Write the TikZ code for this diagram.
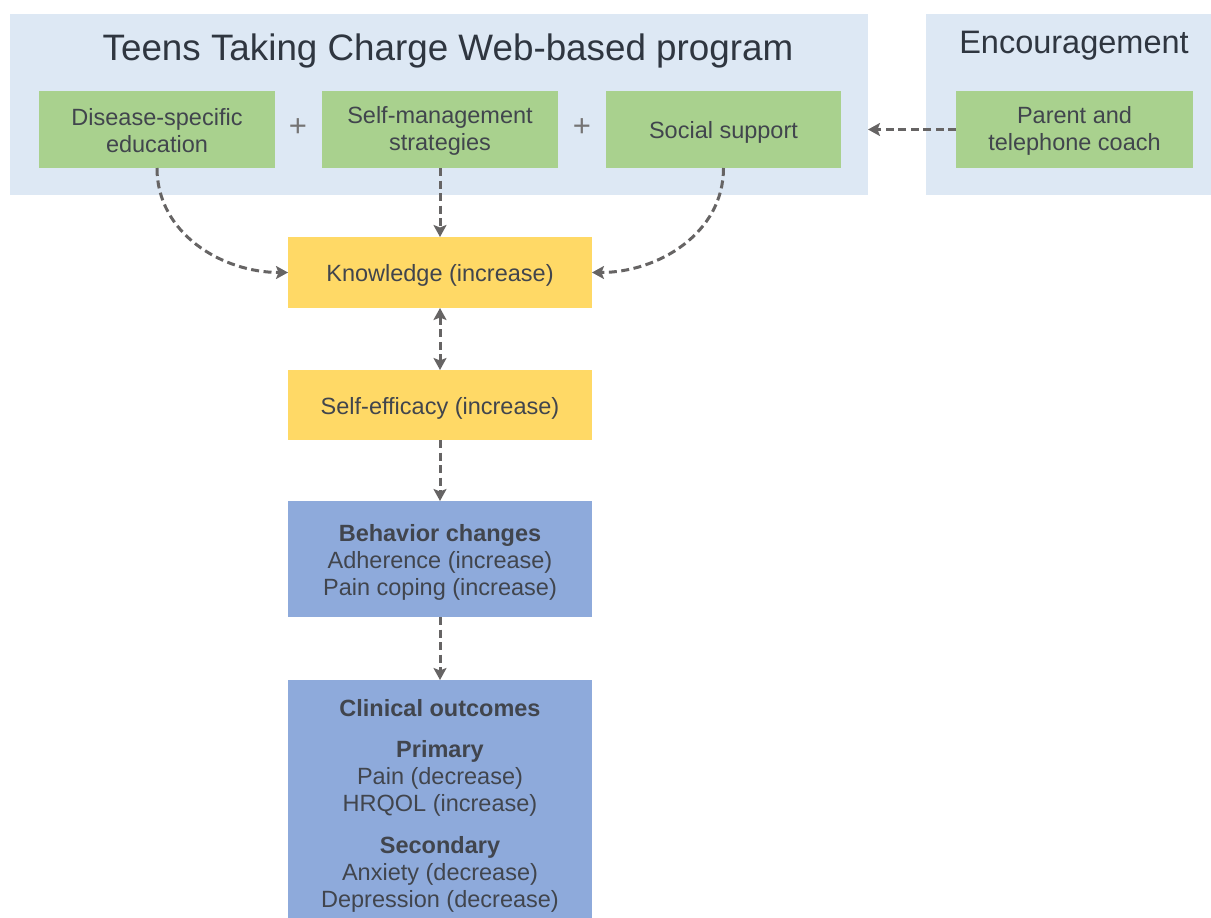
\documentclass[tikz,border=0pt]{standalone}
\usepackage{fontspec}
\setmainfont{Liberation Sans}
\usetikzlibrary{arrows.meta}
\definecolor{bgblue}{HTML}{DDE8F4}
\definecolor{boxgreen}{HTML}{A9D18E}
\definecolor{boxyellow}{HTML}{FFD966}
\definecolor{boxblue}{HTML}{8EAADB}
\definecolor{txtgray}{HTML}{41454D}
\definecolor{titlegray}{HTML}{2F3640}
\definecolor{arrgray}{HTML}{666464}
\begin{document}
\begin{tikzpicture}[x=1pt,y=-1pt,
  box/.style={inner sep=0pt, outer sep=0pt, align=center, text=txtgray,
    font=\fontsize{23.5}{27}\selectfont},
  boxtext/.style={box, yshift=-3pt},
  panel/.style={box, fill=bgblue},
  greenbox/.style={box, fill=boxgreen, minimum width=236pt, minimum height=77pt},
  yellowbox/.style={box, fill=boxyellow, minimum width=304pt, minimum height=70pt},
  bluebox/.style={box, fill=boxblue, minimum width=304pt},
  plus/.style={text=arrgray!90, font=\fontsize{31}{31}\selectfont},
  tip/.style={Stealth[length=12pt,width=13pt,inset=2.5pt]},
  conn/.style={draw=arrgray, line width=3pt, dash pattern=on 8pt off 4.5pt, -{Stealth[length=12pt,width=13pt,inset=2.5pt]}},
  dconn/.style={conn, {Stealth[length=12pt,width=13pt,inset=2.5pt]}-{Stealth[length=12pt,width=13pt,inset=2.5pt]}}
]
\useasboundingbox (0,0) rectangle (1211,918);

% panels
\node[panel, minimum width=858pt, minimum height=181pt] (web) at (439,104.5) {};
\node[panel, minimum width=285pt, minimum height=181pt] (enc) at (1068.5,104.5) {};
\node[text=titlegray, font=\fontsize{36.8}{40}\selectfont] (webtitle) at (448,51) {Teens Taking Charge Web-based program};
\node[text=titlegray, font=\fontsize{32.5}{36}\selectfont] (enctitle) at (1074,46) {Encouragement};

% green boxes
\node[greenbox] (edu) at (157,129.5) {};
\node[boxtext, yshift=2pt] (edutxt) at (edu) {Disease-specific\\education};
\node[greenbox] (strat) at (440,129.5) {};
\node[boxtext, yshift=2pt] (strattxt) at (strat) {Self-management\\strategies};
\node[greenbox, minimum width=235pt] (social) at (723.5,129.5) {};
\node[boxtext] (socialtxt) at (social) {Social support};
\node[greenbox, minimum width=237pt] (coach) at (1074.5,129.5) {};
\node[boxtext, yshift=2pt] (coachtxt) at (coach) {Parent and\\telephone coach};
\node[plus] (p1) at (298,128) {+};
\node[plus] (p2) at (582,128) {+};

% middle chain
\node[yellowbox, minimum height=71pt] (know) at (440,272.5) {};
\node[boxtext] (knowtxt) at (know) {Knowledge (increase)};
\node[yellowbox] (eff) at (440,405) {};
\node[boxtext] (efftxt) at (eff) {Self-efficacy (increase)};
\node[bluebox, minimum height=116pt] (beh) at (440,559) {};
\node[boxtext] (behtxt) at (beh)
  {\textbf{Behavior changes}\\Adherence (increase)\\Pain coping (increase)};
\node[bluebox, minimum height=238pt] (clin) at (440,799) {};
\node[box] (clintext) at (440,806)
  {\textbf{Clinical outcomes}\\[14pt]\textbf{Primary}\\Pain (decrease)\\HRQOL (increase)\\[15pt]\textbf{Secondary}\\Anxiety (decrease)\\Depression (decrease)};

% connectors
\draw[conn] (edu.south) to[out=-90,in=180] (know.west);
\draw[conn] (strat.south) -- (know.north);
\draw[conn] (social.south) to[out=-90,in=0] (know.east);
\draw[conn] (coach.west) -- (coach.west -| web.east);
\draw[dconn] (know.south) -- (eff.north);
\draw[conn] (eff.south) -- (beh.north);
\draw[conn] (beh.south) -- (clin.north);
\end{tikzpicture}
\end{document}
